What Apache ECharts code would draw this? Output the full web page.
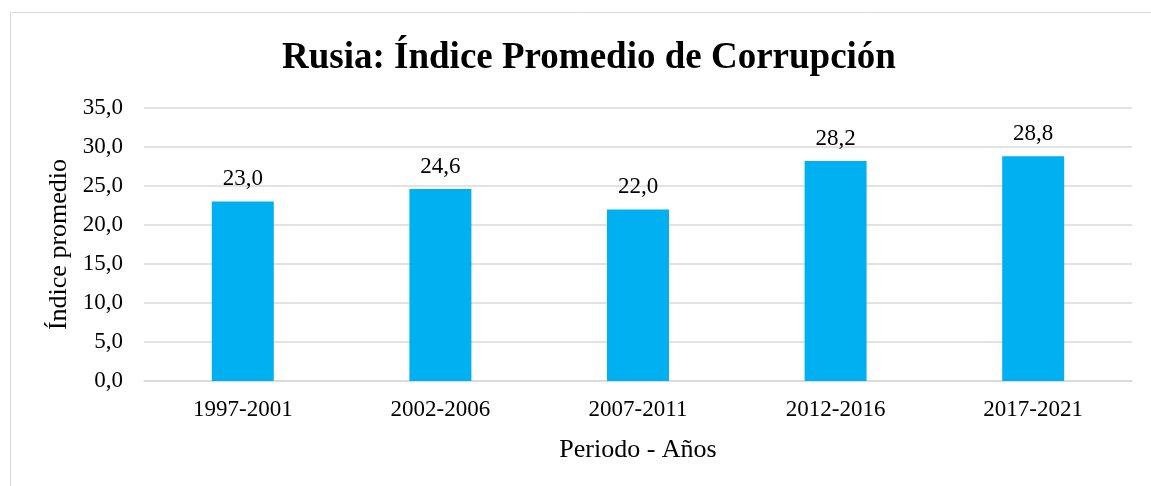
<!DOCTYPE html>
<html>
<head>
<meta charset="utf-8">
<script src="https://cdn.jsdelivr.net/npm/echarts@6/dist/echarts.min.js"></script>
<style>
  html, body { margin: 0; padding: 0; background: #fff; }
  #main { width: 1151px; height: 486px; }
</style>
</head>
<body>
<div id="main"></div>
<script>
const periodos = ['1997-2001', '2002-2006', '2007-2011', '2012-2016', '2017-2021'];
const indices = [23.0, 24.6, 22.0, 28.2, 28.8];

const fuente = 'Liberation Serif, Times New Roman, serif';

function coma(v) {
    return Number(v).toFixed(1).replace('.', ',');
}

let myChart = echarts.init(document.getElementById('main'));
let option = {
    animation: false,
    backgroundColor: '#ffffff',
    graphic: [{
        type: 'rect',
        shape: { x: 10.5, y: 12.5, width: 1150, height: 480 },
        style: { fill: 'none', stroke: '#d9d9d9', lineWidth: 1 }
    }],
    title: {
        text: 'Rusia: Índice Promedio de Corrupción',
        left: 277,
        top: 35,
        textStyle: {
            fontFamily: fuente,
            fontSize: 37,
            fontWeight: 'bold',
            color: '#000'
        }
    },
    grid: {
        left: 144,
        right: 19,
        top: 108,
        bottom: 105
    },
    xAxis: {
        type: 'category',
        data: periodos,
        name: 'Periodo - Años',
        nameLocation: 'middle',
        nameGap: 56,
        nameTextStyle: { fontFamily: fuente, fontSize: 26, color: '#000' },
        axisTick: { show: false },
        axisLine: { lineStyle: { color: '#d9d9d9', width: 1.5 } },
        axisLabel: { fontFamily: fuente, fontSize: 23, color: '#000', margin: 17 }
    },
    yAxis: {
        type: 'value',
        min: 0,
        max: 35,
        interval: 5,
        name: 'Índice promedio',
        nameLocation: 'middle',
        nameGap: 71,
        nameTextStyle: { fontFamily: fuente, fontSize: 26, color: '#000' },
        axisLine: { show: false },
        axisTick: { show: false },
        splitLine: { lineStyle: { color: '#d9d9d9', width: 1.5 } },
        axisLabel: {
            fontFamily: fuente,
            fontSize: 23,
            color: '#000',
            margin: 21,
            formatter: coma
        }
    },
    series: [{
        type: 'bar',
        data: indices,
        barWidth: 62,
        itemStyle: { color: '#00b0f0' },
        label: {
            show: true,
            position: 'top',
            distance: 11,
            fontFamily: fuente,
            fontSize: 23,
            color: '#000',
            formatter: p => coma(p.value)
        }
    }]
};
myChart.setOption(option);
</script>
</body>
</html>
